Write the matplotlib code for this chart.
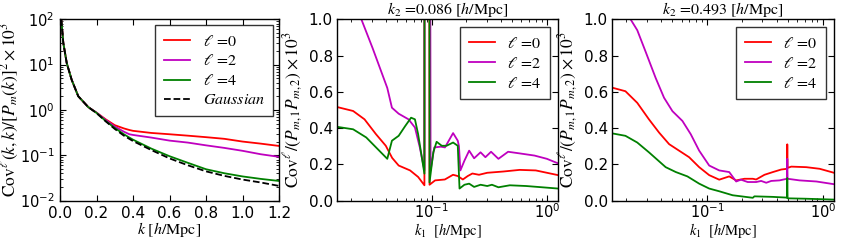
import matplotlib
matplotlib.use("Agg")
import matplotlib.pyplot as plt
import numpy as np

# ---------------- data ----------------
# Panel 1: diagonal covariance vs k
p1_k_gauss = [0.007, 0.018, 0.037, 0.064, 0.10, 0.155, 0.20, 0.25, 0.30, 0.35, 0.40, 0.50, 0.60, 0.70, 0.80, 0.90, 1.00, 1.10, 1.20]
p1_gauss   = [100, 30, 10.7, 4.6, 2.0, 1.15, 0.85, 0.56, 0.38, 0.27, 0.205, 0.13, 0.085, 0.060, 0.044, 0.035, 0.029, 0.025, 0.021]
p1_k       = [0.007, 0.018, 0.037, 0.064, 0.10, 0.155, 0.20, 0.25, 0.30, 0.35, 0.38, 0.40, 0.50, 0.60, 0.70, 0.80, 0.90, 1.00, 1.10, 1.20]
p1_l0      = [100, 30, 10.7, 4.6, 2.0, 1.15, 0.87, 0.62, 0.46, 0.39, 0.36, 0.345, 0.31, 0.29, 0.27, 0.25, 0.23, 0.20, 0.18, 0.16]
p1_l2      = [100, 30, 10.7, 4.6, 2.0, 1.15, 0.87, 0.60, 0.43, 0.33, 0.29, 0.28, 0.245, 0.21, 0.19, 0.165, 0.145, 0.125, 0.105, 0.092]
p1_l4      = [100, 30, 10.7, 4.6, 2.0, 1.15, 0.86, 0.57, 0.40, 0.29, 0.245, 0.22, 0.14, 0.095, 0.068, 0.049, 0.040, 0.034, 0.030, 0.027]

# Panel 2: k2 = 0.086
p2_k_l0 = [0.0152, 0.0207, 0.026, 0.0327, 0.0398, 0.0452, 0.0515, 0.0647, 0.076, 0.0862, 0.0868, 0.0945, 0.0955, 0.1067,
           0.1297, 0.1528, 0.168, 0.186, 0.205, 0.225, 0.257, 0.303, 0.418, 0.579, 0.80, 1.25]
p2_l0   = [0.515, 0.494, 0.448, 0.366, 0.302, 0.235, 0.193, 0.166, 0.13, 0.084, 6.0, 6.0, 0.087, 0.111,
           0.116, 0.142, 0.135, 0.116, 0.135, 0.149, 0.142, 0.153, 0.16, 0.169, 0.166, 0.14]
p2_k_l2 = [0.0152, 0.0244, 0.0306, 0.041, 0.045, 0.0515, 0.0627, 0.0713, 0.0786, 0.0862, 0.0868, 0.0945, 0.0975, 0.105,
           0.12, 0.13, 0.153, 0.168, 0.172, 0.177, 0.192, 0.211, 0.233, 0.265, 0.292, 0.327, 0.379, 0.46, 0.579, 0.78, 1.0, 1.25]
p2_l2   = [1.35, 1.0, 0.84, 0.621, 0.512, 0.479, 0.448, 0.403, 0.293, 0.166, 6.0, 6.0, 0.166, 0.293,
           0.297, 0.293, 0.372, 0.33, 0.30, 0.166, 0.22, 0.275, 0.233, 0.266, 0.239, 0.269, 0.23, 0.269, 0.26, 0.248, 0.23, 0.205]
p2_k_l4 = [0.0152, 0.0207, 0.0269, 0.041, 0.045, 0.0515, 0.0587, 0.066, 0.0713, 0.076, 0.0862, 0.0868, 0.0945, 0.0955,
           0.103, 0.110, 0.122, 0.134, 0.153, 0.168, 0.174, 0.192, 0.211, 0.233, 0.265, 0.303, 0.333, 0.379, 0.476, 0.66, 0.91, 1.25]
p2_l4   = [0.406, 0.393, 0.348, 0.23, 0.33, 0.357, 0.411, 0.457, 0.448, 0.366, 0.148, 6.0, 6.0, 0.10,
           0.266, 0.324, 0.302, 0.302, 0.32, 0.302, 0.066, 0.087, 0.093, 0.075, 0.087, 0.08, 0.087, 0.073, 0.084, 0.08, 0.073, 0.066]

# Panel 3: k2 = 0.493
p3_k_l0 = [0.0146, 0.0196, 0.0248, 0.0313, 0.0383, 0.0468, 0.0571, 0.0697, 0.0852, 0.104, 0.127, 0.155, 0.178, 0.21,
           0.248, 0.265, 0.313, 0.37, 0.437, 0.49, 0.493, 0.496, 0.534, 0.72, 0.94, 1.25]
p3_l0   = [0.625, 0.603, 0.539, 0.448, 0.375, 0.311, 0.275, 0.239, 0.184, 0.14, 0.115, 0.133, 0.111, 0.12,
           0.12, 0.116, 0.142, 0.157, 0.171, 0.175, 0.31, 0.18, 0.187, 0.184, 0.175, 0.153]
p3_k_l2 = [0.0146, 0.0217, 0.0248, 0.0293, 0.0358, 0.0423, 0.05, 0.061, 0.072, 0.0852, 0.104, 0.127, 0.155, 0.178,
           0.196, 0.224, 0.265, 0.293, 0.324, 0.358, 0.422, 0.49, 0.493, 0.496, 0.63, 0.88, 1.25]
p3_l2   = [1.25, 1.0, 0.94, 0.821, 0.676, 0.567, 0.493, 0.439, 0.366, 0.275, 0.193, 0.166, 0.157, 0.105,
           0.115, 0.102, 0.102, 0.108, 0.098, 0.108, 0.111, 0.12, 0.23, 0.12, 0.111, 0.105, 0.09]
p3_k_l4 = [0.0146, 0.0196, 0.0248, 0.0313, 0.0437, 0.0535, 0.0674, 0.0852, 0.104, 0.127, 0.166, 0.248, 0.256, 0.37,
           0.49, 0.493, 0.496, 0.7, 1.0, 1.25]
p3_l4   = [0.372, 0.357, 0.32, 0.266, 0.184, 0.157, 0.133, 0.093, 0.066, 0.051, 0.029, 0.015, 0.023, 0.02,
           0.016, 0.124, 0.012, 0.01, 0.007, 0.005]

legend_labels = [r'$\ell$ =0', r'$\ell$ =2', r'$\ell$ =4', r'$Gaussian$']
titles = [r'$k_2$ =0.086 $[h/\mathrm{Mpc}]$', r'$k_2$ =0.493 $[h/\mathrm{Mpc}]$']

# ---------------- style ----------------
plt.rcParams.update({
    'font.family': 'DejaVu Sans',
    'font.size': 11,
    'xtick.labelsize': 11, 'ytick.labelsize': 11,
    'mathtext.fontset': 'dejavusans',
    'xtick.direction': 'in', 'ytick.direction': 'in',
    'xtick.top': True, 'ytick.right': True,
    'xtick.major.size': 4.5, 'ytick.major.size': 4.5,
    'xtick.minor.size': 2.2, 'ytick.minor.size': 2.2,
    'xtick.major.pad': 3, 'ytick.major.pad': 3,
    'xtick.minor.pad': 3, 'ytick.minor.pad': 3,
    'axes.linewidth': 1.0,
    'legend.fancybox': False,
})

c_l0, c_l2, c_l4 = '#ff0000', '#bf00bf', '#008000'
lw = 1.3

fig = plt.figure(figsize=(8.43, 2.41), dpi=100)
bottom, height = 0.168, 0.752
ax1 = fig.add_axes([0.0712, bottom, 0.2598, height])
ax2 = fig.add_axes([0.3998, bottom, 0.2622, height])
ax3 = fig.add_axes([0.7260, bottom, 0.2633, height])

leg_kw = dict(loc='upper right', fontsize=11.5, handlelength=1.6, borderpad=0.55, labelspacing=0.3,
              handletextpad=0.8, borderaxespad=0.35)

def style_legend(leg):
    fr = leg.get_frame()
    fr.set_edgecolor('black')
    fr.set_linewidth(1.0)
    for t in leg.get_texts():
        t.set_math_fontfamily('stix')
        t.set_family('STIXGeneral')

# Panel 1
ax1.plot(p1_k, p1_l0, color=c_l0, lw=lw, label=legend_labels[0])
ax1.plot(p1_k, p1_l2, color=c_l2, lw=lw, label=legend_labels[1])
ax1.plot(p1_k, p1_l4, color=c_l4, lw=lw, label=legend_labels[2])
ax1.plot(p1_k_gauss, p1_gauss, 'k--', lw=lw, label=legend_labels[3])
ax1.set_yscale('log')
ax1.set_xlim(0, 1.2)
ax1.set_ylim(1e-2, 1e2)
ax1.set_xticks(np.arange(0, 1.21, 0.2))
ax1.tick_params(axis='x', which='both', pad=4)
ax1.tick_params(axis='y', which='both', pad=4, labelsize=10.5)
ax1.set_xlabel(r'$k\ [h/\mathrm{Mpc}]$', fontsize=11.5, math_fontfamily='stix')
ax1.set_ylabel(r'$\mathrm{Cov}^{\ell}(k,k)/[P_m(k)]^2\times10^3$', fontsize=12.5, math_fontfamily='stix')
ax1.xaxis.set_label_coords(0.5, -0.11)
ax1.yaxis.set_label_coords(-0.18, 0.5)
style_legend(ax1.legend(**leg_kw))

# Panels 2 and 3
for ax, kl0, l0, kl2, l2, kl4, l4, title in [
        (ax2, p2_k_l0, p2_l0, p2_k_l2, p2_l2, p2_k_l4, p2_l4, titles[0]),
        (ax3, p3_k_l0, p3_l0, p3_k_l2, p3_l2, p3_k_l4, p3_l4, titles[1])]:
    ax.plot(kl0, l0, color=c_l0, lw=lw, label=legend_labels[0])
    ax.plot(kl2, l2, color=c_l2, lw=lw, label=legend_labels[1])
    ax.plot(kl4, l4, color=c_l4, lw=lw, label=legend_labels[2])
    ax.set_xscale('log')
    ax.set_xlim(0.015, 1.25)
    ax.set_ylim(0, 1.0)
    ax.set_yticks(np.arange(0, 1.01, 0.2))
    ax.tick_params(axis='x', which='both', pad=1.5, labelsize=10.5)
    ax.set_xlabel(r'$k_1\ \ [h/\mathrm{Mpc}]$', fontsize=10.5, math_fontfamily='stix')
    ax.set_ylabel(r'$\mathrm{Cov}^{\ell}/(P_{m,1}P_{m,2})\times10^3$', fontsize=12.5, math_fontfamily='stix')
    ax.xaxis.set_label_coords(0.5, -0.115)
    ax.yaxis.set_label_coords(-0.143, 0.5)
    ax.set_title(title, fontsize=11.5, family='STIXGeneral', math_fontfamily='stix', pad=1.5)
    leg_kw2 = dict(leg_kw, borderaxespad=0.5)
    style_legend(ax.legend(**leg_kw2))

fig.savefig('out.png', dpi=100, facecolor='white')
